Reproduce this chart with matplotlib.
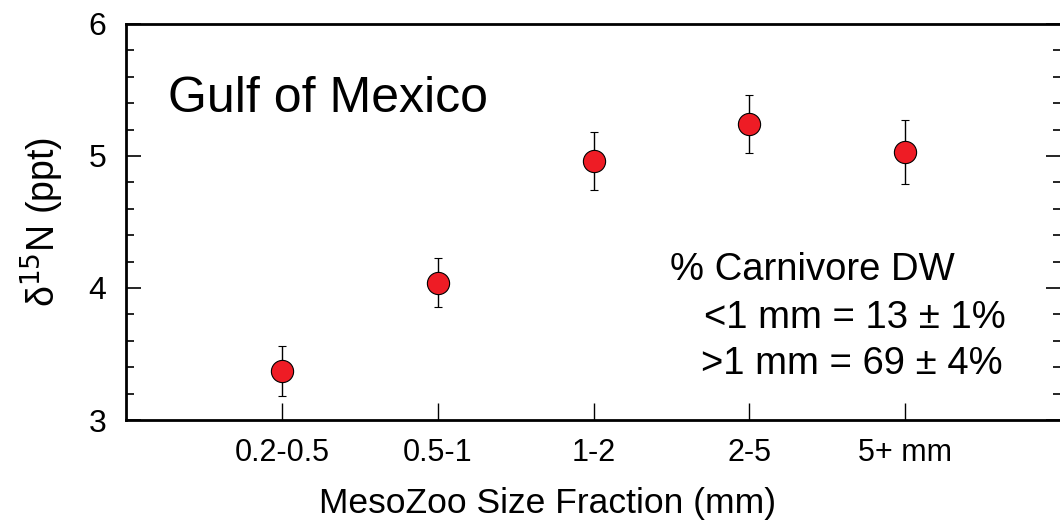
import matplotlib
matplotlib.use("Agg")
import matplotlib.pyplot as plt
from matplotlib.ticker import MultipleLocator
import numpy as np

plt.rcParams["font.family"] = ["Liberation Sans", "DejaVu Sans"]

size_fractions = ["0.2-0.5", "0.5-1", "1-2", "2-5", "5+ mm"]
d15n = [3.37, 4.04, 4.96, 5.24, 5.03]
d15n_err = [0.19, 0.185, 0.22, 0.22, 0.24]

x = np.arange(1, len(size_fractions) + 1)

fig = plt.figure(figsize=(10.6, 5.25), dpi=100)
# right spine sits just past the figure edge
ax = fig.add_axes([0.1189, 0.2, 0.8821, 0.7543])

ax.errorbar(x, d15n, yerr=d15n_err, fmt="o", color="black", ecolor="black",
            elinewidth=1, capsize=3, capthick=1,
            markerfacecolor="#ee1c25", markeredgecolor="black",
            markeredgewidth=0.8, markersize=16)

ax.set_xlim(0, 6)
ax.set_ylim(3, 6)
ax.set_xticks(x)
ax.set_xticklabels(size_fractions, fontsize=22)
ax.yaxis.set_major_locator(MultipleLocator(1))
ax.yaxis.set_minor_locator(MultipleLocator(0.2))

ax.tick_params(axis="y", which="major", direction="in", length=11, width=1.2,
               labelsize=23, right=True, pad=14)
ax.tick_params(axis="y", which="minor", direction="in", length=6, width=1.2,
               right=True)
ax.tick_params(axis="x", which="major", direction="in", length=12, width=1,
               top=False, pad=13)
for sp in ax.spines.values():
    sp.set_linewidth(2)

ax.set_xlabel("MesoZoo Size Fraction (mm)", fontsize=25.5, labelpad=14, x=0.451)
ax.set_ylabel(r"δ$^{15}$N (ppt)", fontsize=27, labelpad=16)

ax.text(0.27, 5.33, "Gulf of Mexico", fontsize=36)
ax.text(3.49, 4.06, "% Carnivore DW", fontsize=27.5)
ax.text(3.71, 3.70, "<1 mm = 13 ± 1%", fontsize=27.5)
ax.text(3.69, 3.35, ">1 mm = 69 ± 4%", fontsize=27.5)

fig.savefig("out.png", dpi=100)
